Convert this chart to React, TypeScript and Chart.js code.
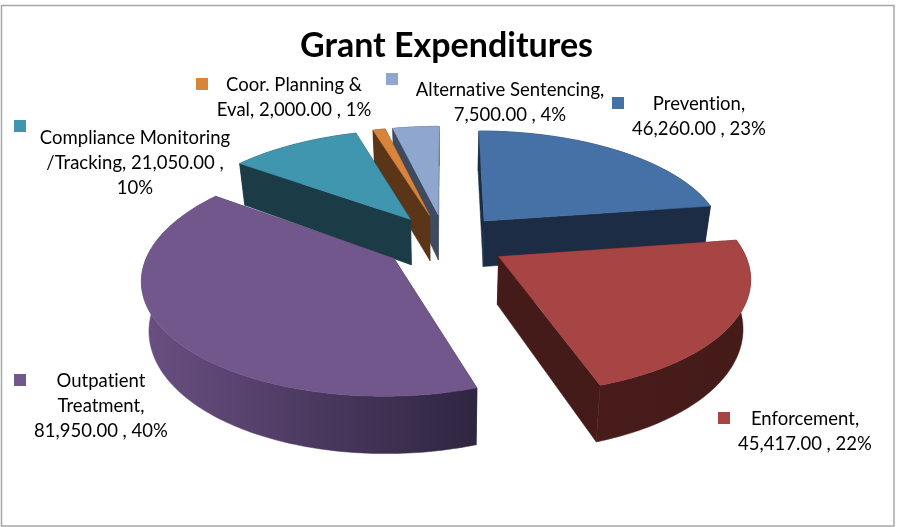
import React, { useEffect, useRef } from "react";
import { Chart, registerables } from "chart.js";

Chart.register(...registerables);

const categories = ["Prevention", "Enforcement", "Outpatient Treatment", "Compliance Monitoring /Tracking", "Coor. Planning & Eval", "Alternative Sentencing"];
const values = [46260, 45417, 81950, 21050, 2000, 7500];
const labelLines = [
  ["Prevention,", "46,260.00 , 23%"],
  ["Enforcement,", "45,417.00 , 22%"],
  ["Outpatient", "Treatment,", "81,950.00 , 40%"],
  ["Compliance Monitoring", "/Tracking, 21,050.00 ,", "10%"],
  ["Coor. Planning &", "Eval, 2,000.00 , 1%"],
  ["Alternative Sentencing,", "7,500.00 , 4%"],
];
const topColors = ["#4671A6", "#A64543", "#72578C", "#4096AF", "#D9843B", "#8FA6CE"];
const wallLeft = ["#1B2C44", "#471C1A", "#6A4F82", "#1B3C47", "#5A3518", "#3F4A5E"];
const wallRight = ["#1B2C44", "#451B19", "#2E2540", "#1B3C47", "#5A3518", "#3F4A5E"];

// placement of data labels: [text centre x, first line centre y, marker x, marker y]
const labelPlace = [
  [699, 104, 612, 97],
  [805, 419, 718, 412],
  [101, 381, 14, 374],
  [135, 138, 14, 120],
  [294, 85, 196, 78],
  [510, 90, 386, 73],
];
const drawOrder = [5, 4, 3, 0, 2, 1];

const CX = 445, CY = 241.6, R = 242, K = 0.455, P = 0.00065, DEPTH = 47, SHRINK = 0.975;
const FONT = "Lato, 'Open Sans', sans-serif";

function project(u: number, v: number, bottom: boolean) {
  const w = 1 / (1 - P * v);
  let x = CX + u * w;
  let y = CY + K * v * w;
  if (bottom) {
    x = CX + (x - CX) * SHRINK;
    y += DEPTH * w;
  }
  return [x, y];
}

const pie3d = {
  id: "pie3d",
  beforeDraw(chart: any) {
    const { ctx } = chart;
    ctx.save();
    ctx.fillStyle = "#ffffff";
    ctx.fillRect(0, 0, chart.width, chart.height);
    ctx.strokeStyle = "#A6A6A6";
    ctx.lineWidth = 1.5;
    ctx.strokeRect(1.5, 5.5, 892.5, 520.5);
    ctx.restore();
  },
  beforeDatasetDraw(chart: any) {
    const { ctx } = chart;
    const meta = chart.getDatasetMeta(0);
    ctx.save();
    for (const i of drawOrder) {
      const arc = meta.data[i];
      const p = arc.getProps(["startAngle", "endAngle", "outerRadius"], true);
      const scale = R / p.outerRadius;
      const off = arc.options.offset * scale;
      const mid = (p.startAngle + p.endAngle) / 2;
      const ou = Math.cos(mid) * off;
      const ov = Math.sin(mid) * off;
      const n = Math.max(4, Math.ceil(((p.endAngle - p.startAngle) * 180) / Math.PI));
      const top: number[][] = [];
      const bot: number[][] = [];
      for (let s = 0; s <= n; s++) {
        const a = p.startAngle + ((p.endAngle - p.startAngle) * s) / n;
        const u = ou + Math.cos(a) * R;
        const v = ov + Math.sin(a) * R;
        top.push(project(u, v, false));
        bot.push(project(u, v, true));
      }
      const at = project(ou, ov, false);
      const ab = project(ou, ov, true);
      const poly = (pts: number[][], fill: any) => {
        ctx.beginPath();
        pts.forEach((q, j) => (j ? ctx.lineTo(q[0], q[1]) : ctx.moveTo(q[0], q[1])));
        ctx.closePath();
        ctx.fillStyle = fill;
        ctx.strokeStyle = fill;
        ctx.lineWidth = 0.5;
        ctx.fill();
        ctx.stroke();
      };
      poly([at, top[0], bot[0], ab], wallRight[i]);
      poly([at, top[n], bot[n], ab], wallRight[i]);
      const xs = top.concat(bot).map((q) => q[0]);
      const grad = ctx.createLinearGradient(Math.min(...xs), 0, Math.max(...xs), 0);
      const shaded = wallLeft[i] !== wallRight[i];
      grad.addColorStop(0, wallLeft[i]);
      grad.addColorStop(1, wallRight[i]);
      poly(top.concat(bot.slice().reverse()), shaded ? grad : wallRight[i]);
      poly([at, ...top], topColors[i]);
    }
    ctx.restore();
    return false;
  },
  afterDatasetsDraw(chart: any) {
    const { ctx } = chart;
    ctx.save();
    ctx.textAlign = "center";
    ctx.textBaseline = "middle";
    ctx.font = `18.5px ${FONT}`;
    ctx.letterSpacing = "0.01px";
    labelLines.forEach((lines, i) => {
      const [tx, ty, mx, my] = labelPlace[i];
      ctx.fillStyle = topColors[i];
      ctx.fillRect(mx, my, 12, 12);
      ctx.fillStyle = "#000000";
      lines.forEach((t, j) => ctx.fillText(t, tx, ty + j * 25));
    });
    ctx.restore();
  },
};

export default function App() {
  const ref = useRef<HTMLCanvasElement | null>(null);
  useEffect(() => {
    const chart = new Chart(ref.current as HTMLCanvasElement, {
      type: "pie",
      data: {
        labels: categories,
        datasets: [
          {
            data: values,
            backgroundColor: topColors,
            borderWidth: 0,
            offset: 52,
          },
        ],
      },
      options: {
        responsive: false,
        animation: false,
        layout: { padding: { right: 4 } },
        plugins: {
          legend: { display: false },
          tooltip: { enabled: false },
          title: {
            display: true,
            text: "Grant Expenditures",
            color: "#000000",
            font: { family: FONT, size: 34, weight: "bold" },
            padding: { top: 26, bottom: 0 },
          },
        },
      },
      plugins: [pie3d],
    } as any);
    return () => chart.destroy();
  }, []);
  return (
    <div style={{ position: "absolute", left: 0, top: 0, width: 897, height: 527 }}>
      <canvas ref={ref} width={897} height={527} style={{ display: "block" }} />
    </div>
  );
}
